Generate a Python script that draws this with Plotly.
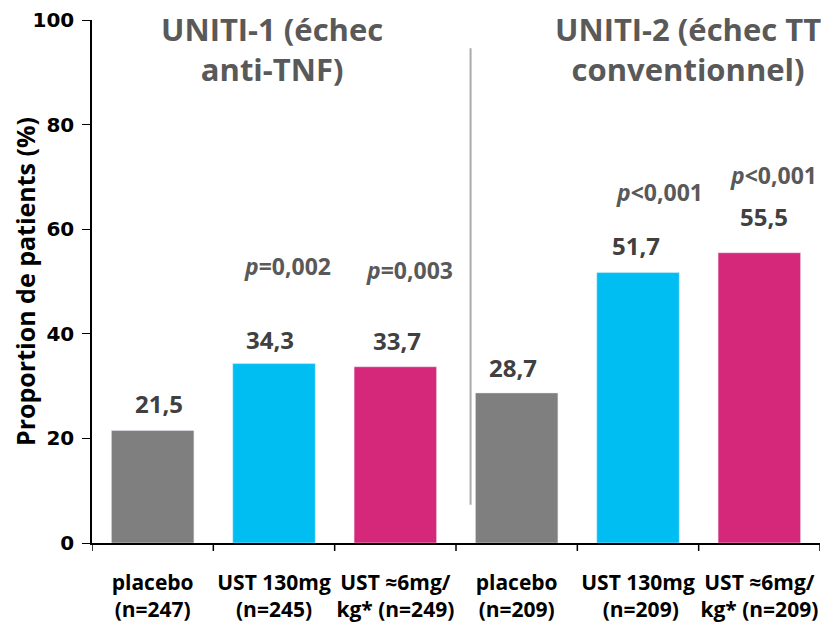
import plotly.graph_objects as go

categories = ["placebo<br>(n=247)", "UST 130mg<br>(n=245)", "UST ≈6mg/<br>kg* (n=249)",
              "placebo<br>(n=209)", "UST 130mg<br> (n=209)", "UST ≈6mg/<br>kg* (n=209)"]
values = [21.5, 34.3, 33.7, 28.7, 51.7, 55.5]
value_labels = ["21,5", "34,3", "33,7", "28,7", "51,7", "55,5"]
bar_colors = ["#7F7F7F", "#00BEF2", "#D6287A", "#7F7F7F", "#00BEF2", "#D6287A"]
p_labels = [None, "<i>p</i>=0,002", "<i>p</i>=0,003", None, "<i>p</i><0,001", "<i>p</i><0,001"]
group_titles = ["UNITI-1 (échec<br>anti-TNF)", "UNITI-2 (échec TT<br>conventionnel)"]
y_ticks = [0, 20, 40, 60, 80, 100]

FONT = "Open Sans"

fig = go.Figure(go.Bar(
    x=list(range(len(categories))), y=values, marker_color=bar_colors,
    width=0.68, showlegend=False,
))

ann = []
lbl_dx = [0.05, -0.03, 0.01, -0.03, -0.02, 0.04]
lbl_shift = [27, 24, 26, 25, 27, 36]
for i, (v, t) in enumerate(zip(values, value_labels)):
    ann.append(dict(x=i + lbl_dx[i], y=v, text=f"<b>{t}</b>", showarrow=False,
                    yshift=lbl_shift[i], yanchor="middle",
                    font=dict(family=FONT, size=24, color="#404040")))
p_dx = [0, 0.115, 0.12, 0, 0.18, 0.115]
p_shift = [0, 98, 97, 0, 81, 78]
for i, (v, p) in enumerate(zip(values, p_labels)):
    if p:
        ann.append(dict(x=i + p_dx[i], y=v, text=f"<b>{p}</b>", showarrow=False,
                        yshift=p_shift[i], yanchor="middle",
                        font=dict(family=FONT, size=23, color="#595959")))
for gx, gt in zip([0.98, 4.41], group_titles):
    ann.append(dict(x=gx, y=0.945, xref="x", yref="paper", text=f"<b>{gt}</b>",
                    showarrow=False, yanchor="middle", align="center",
                    font=dict(family=FONT, size=31, color="#595959")))

fig.add_shape(type="line", x0=2.62, x1=2.62, y0=7.3, y1=94.6, xref="x", yref="y",
              line=dict(color="#AAAAAA", width=2))

fig.update_layout(
    width=829, height=625,
    margin=dict(l=84, r=17, t=12, b=90),
    plot_bgcolor="white", paper_bgcolor="white",
    annotations=ann,
    xaxis=dict(
        tickmode="array", tickvals=list(range(len(categories))), ticktext=[f"<b>{c}</b>" for c in categories],
        range=[-0.5, 5.5], showline=True, linecolor="black", linewidth=1.5, tickangle=0,
        ticks="outside", ticklen=0, showgrid=False, zeroline=False, automargin=False,
        tickfont=dict(family=FONT, size=21, color="black"), ticklabelstandoff=20,
    ),
    yaxis=dict(
        range=[0, 100], tickvals=y_ticks, ticktext=[f"<b>{t}</b>" for t in y_ticks],
        showline=True, linecolor="black", linewidth=1.5, automargin=False,
        ticks="outside", ticklen=8, tickcolor="black", showgrid=False, zeroline=False,
        ticklabeloverflow="allow",
        tickfont=dict(family="DejaVu Sans", size=20, color="black"), ticklabelstandoff=4,
        title=dict(text="<b>Proportion de patients (%)</b>", font=dict(family=FONT, size=25, color="black"), standoff=6),
    ),
)

# boundary ticks on x axis
for b in [-0.5, 0.5, 1.5, 2.5, 3.5, 4.5, 5.5]:
    fig.add_shape(type="line", x0=b, x1=b, y0=0, y1=-8, xref="x", yref="paper",
                  ysizemode="pixel", yanchor=0, line=dict(color="black", width=1.5))

fig.write_html("out.html")
